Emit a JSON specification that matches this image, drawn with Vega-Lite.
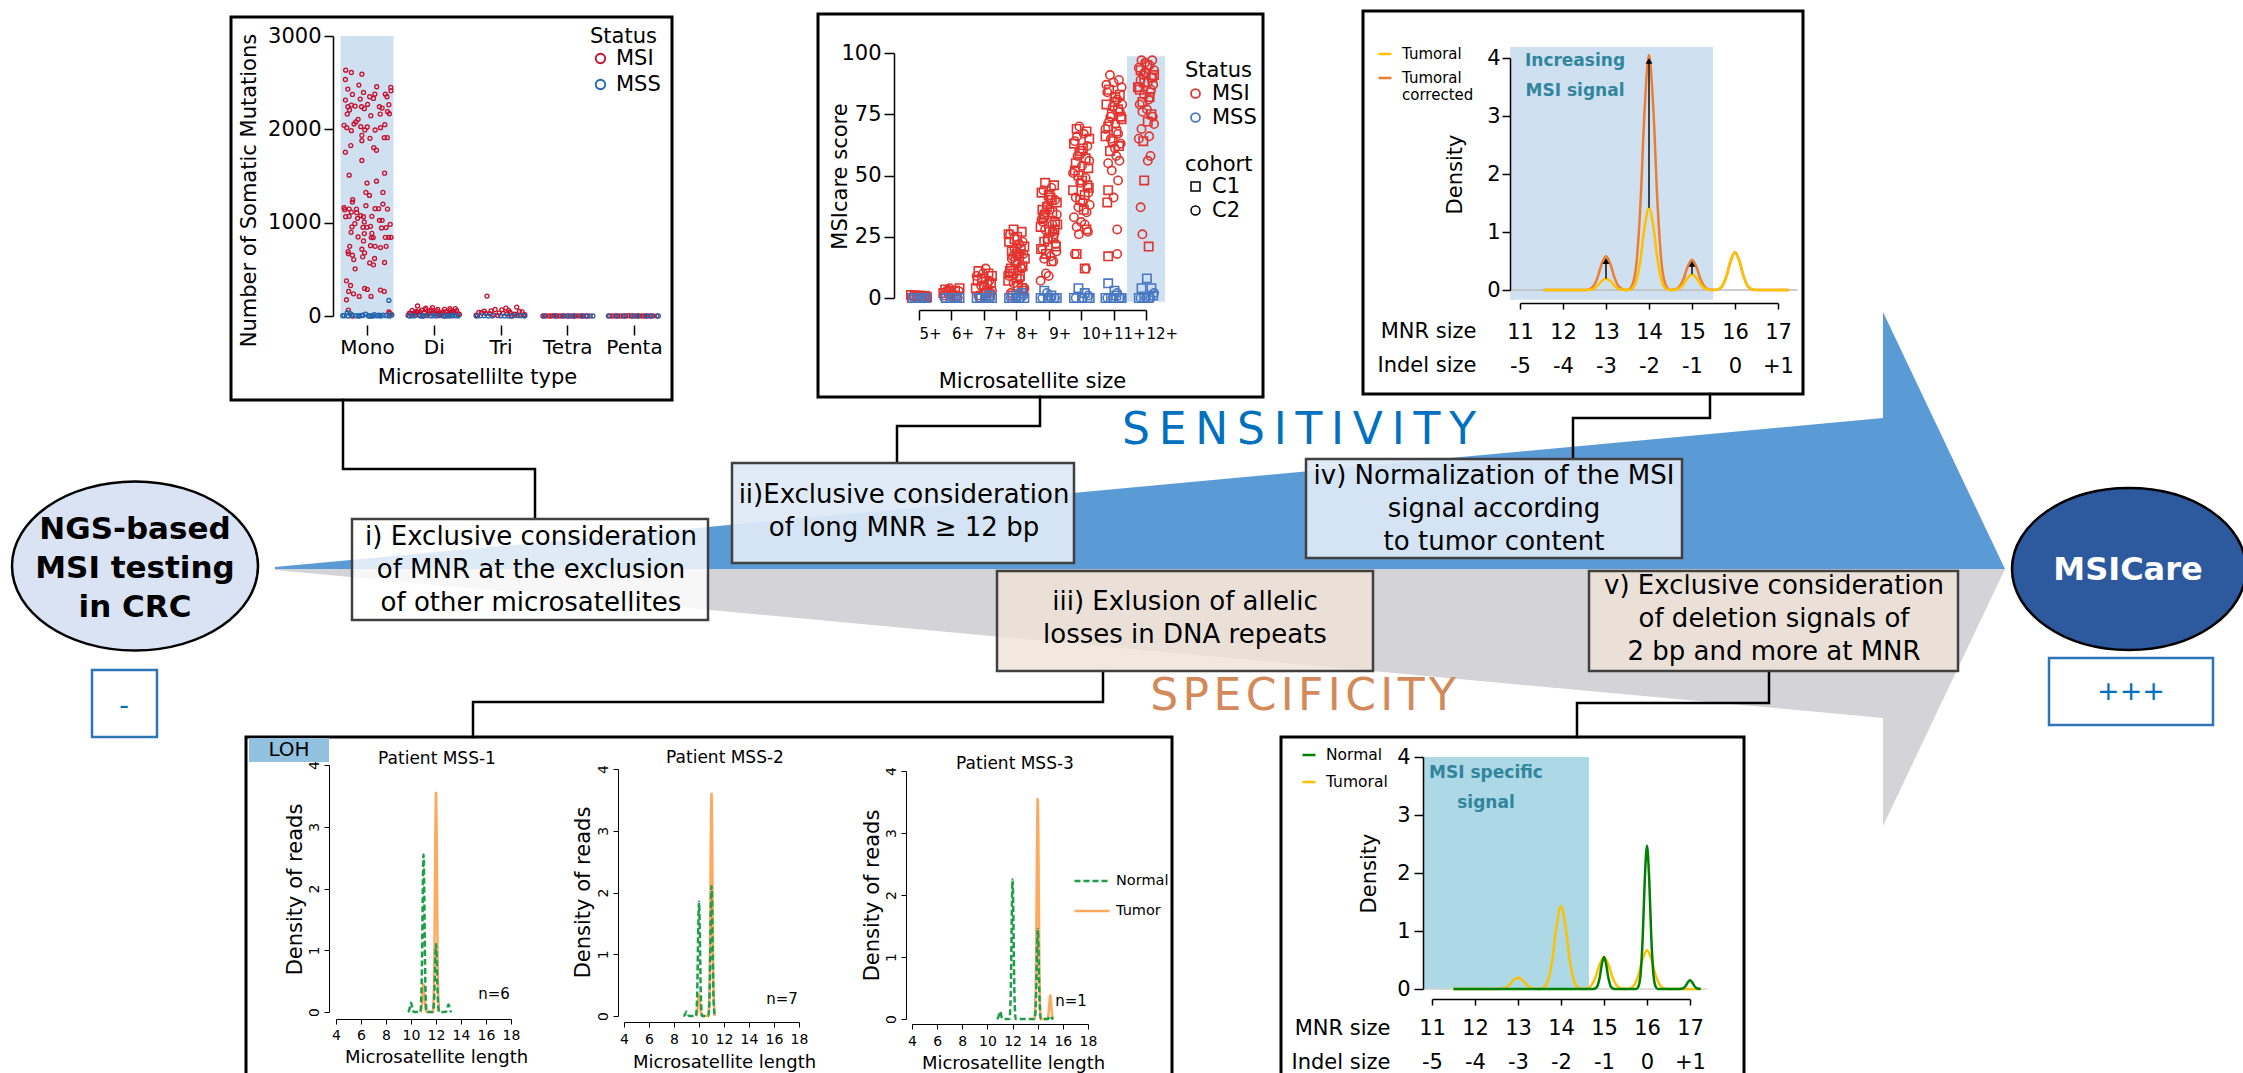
{
"$schema":"https://vega.github.io/schema/vega-lite/v6.json",
"width":2243,"height":1073,"autosize":"none","padding":0,"background":"white",
"config":{"view":{"stroke":null},"font":"DejaVu Sans",
"axis":{"grid":false,"labelFont":"DejaVu Sans","titleFont":"DejaVu Sans","labelColor":"black","titleColor":"black","domainColor":"black","tickColor":"black","titleFontWeight":"normal","labelFlush":false,"labelOverlap":false,"domainWidth":1.5,"tickWidth":1.5},
"legend":{"labelFont":"DejaVu Sans","titleFont":"DejaVu Sans","labelColor":"black","titleColor":"black","titleFontWeight":"normal","padding":0},
"text":{"font":"DejaVu Sans"}},
"datasets":{
"arrows":[{"a":"grey","x":275,"y":569,"y2":570},{"a":"grey","x":1883,"y":569,"y2":718},{"a":"grey","x":1883,"y":569,"y2":826},{"a":"grey","x":2005,"y":569,"y2":569},{"a":"blue","x":275,"y":567,"y2":569},{"a":"blue","x":1883,"y":418,"y2":569},{"a":"blue","x":1883,"y":312,"y2":569},{"a":"blue","x":2005,"y":569,"y2":569}],
"links":[{"id":"a","o":1,"x":343,"y":400},{"id":"a","o":2,"x":343,"y":469},{"id":"a","o":3,"x":535,"y":469},{"id":"a","o":4,"x":535,"y":519},
{"id":"b","o":1,"x":1040,"y":397},{"id":"b","o":2,"x":1040,"y":426},{"id":"b","o":3,"x":897,"y":426},{"id":"b","o":4,"x":897,"y":463},
{"id":"c","o":1,"x":1710,"y":394},{"id":"c","o":2,"x":1710,"y":418},{"id":"c","o":3,"x":1573,"y":418},{"id":"c","o":4,"x":1573,"y":459},
{"id":"d","o":1,"x":1103,"y":671},{"id":"d","o":2,"x":1103,"y":702},{"id":"d","o":3,"x":473,"y":702},{"id":"d","o":4,"x":473,"y":737},
{"id":"e","o":1,"x":1769,"y":671},{"id":"e","o":2,"x":1769,"y":703},{"id":"e","o":3,"x":1577,"y":703},{"id":"e","o":4,"x":1577,"y":737}],
"rects":[{"k":"panel","x":231,"x2":672,"y":17,"y2":400},{"k":"panel","x":818,"x2":1263,"y":14,"y2":397},{"k":"panel","x":1363,"x2":1803,"y":11,"y2":394},{"k":"panel","x":246,"x2":1172,"y":737,"y2":1085},{"k":"panel","x":1281,"x2":1744,"y":737,"y2":1085},
{"k":"boxW","x":352,"x2":708,"y":519,"y2":620},
{"k":"boxB","x":732,"x2":1074,"y":463,"y2":563},{"k":"boxB","x":1306,"x2":1682,"y":459,"y2":558},
{"k":"boxT","x":997,"x2":1373,"y":571,"y2":671},{"k":"boxT","x":1589,"x2":1958,"y":571,"y2":671},
{"k":"loh","x":249,"x2":329,"y":738,"y2":762},
{"k":"sign","x":92,"x2":157,"y":670,"y2":737},{"k":"sign","x":2049,"x2":2213,"y":658,"y2":725}],
"ells":[{"k":"L","x":135,"y":566},{"k":"R","x":2129,"y":569}],
"texts":[
{"k":"box","x":531,"y":537,"t":"i) Exclusive consideration\nof MNR at the exclusion\nof other microsatellites"},
{"k":"box","x":904,"y":495,"t":"ii)Exclusive consideration\nof long MNR ≥ 12 bp"},
{"k":"box","x":1185,"y":602,"t":"iii) Exlusion of allelic\nlosses in DNA repeats"},
{"k":"box","x":1494,"y":476,"t":"iv) Normalization of the MSI\nsignal according\nto tumor content"},
{"k":"box","x":1774,"y":586,"t":"v) Exclusive consideration\nof deletion signals of\n2 bp and more at MNR"},
{"k":"ngs","x":135,"y":530,"t":"NGS-based\nMSI testing\nin CRC"},
{"k":"msicare","x":2128,"y":570,"t":"MSICare"},
{"k":"sens","x":1299,"y":431,"t":"S\u2009E\u2009N\u2009S\u2009I\u2009T\u2009I\u2009V\u2009I\u2009T\u2009Y"},
{"k":"spec","x":1303,"y":697,"t":"S\u200aP\u200aE\u200aC\u200aI\u200aF\u200aI\u200aC\u200aI\u200aT\u200aY"},
{"k":"sign","x":2131,"y":692,"t":"+++"},
{"k":"sign","x":124,"y":706,"t":"-"},
{"k":"pt","x":437,"y":759,"t":"Patient MSS-1"},
{"k":"pt","x":725,"y":758,"t":"Patient MSS-2"},
{"k":"pt","x":1015,"y":764,"t":"Patient MSS-3"},
{"k":"n","x":494,"y":994,"t":"n=6"},
{"k":"n","x":782,"y":999,"t":"n=7"},
{"k":"n","x":1071,"y":1001,"t":"n=1"},
{"k":"loh","x":289,"y":750,"t":"LOH"},
{"k":"sig","x":1575,"y":61,"t":"Increasing\nMSI signal"},
{"k":"sig","x":1486,"y":773,"t":"MSI specific\nsignal"}],
"p1":[
{"t":"Mono","s":"MSI","v":[2634,2609,2591,2534,2431,2474,2456,2449,2374,2395,2413,2377,2377,2313,2349,2324,2331,2349,2242,2260,2249,2242,2267,2221,2228,2264,2207,2242,2189,2164,2146,2164,2167,2107,2057,2079,2043,2018,1986,2029,2025,1993,1993,2050,2018,1936,1879,1904,1911,1911,1826,1804,1776,1755,1666,1509,1530,1424,1445,1324,1324,1292,1246,1221,1199,1160,1146,1146,1182,1150,1150,1146,1139,1114,1107,1068,1064,1075,1064,1046,1068,1025,1025,1007,982,954,989,950,950,961,943,947,897,883,886,847,840,840,843,843,843,804,747,754,747,733,747,715,690,676,666,651,634,616,605,569,548,573,505,377,327,263,238,210,295,285,210,278,263,174,64,0,43,11,28],
"j":[-0.79,-0.58,-0.19,-0.8,-0.71,-0.3,0.36,0.88,-0.54,-0.13,0.89,0.29,0.68,-0.8,0.1,-0.25,0.24,0.74,-0.71,-0.58,-0.44,-0.2,0.02,-0.1,0.56,0.81,-0.65,0.46,0.76,-0.73,0.14,0.49,0.83,-0.33,-0.48,-0.41,-0.85,-0.75,-0.58,-0.23,0.01,-0.08,0.3,0.66,0.5,-0.19,-0.19,0.11,0.64,0.75,-0.6,0.25,0.35,-0.8,-0.19,-0.66,0.65,0,0.35,-0.04,0.59,0.09,-0.53,-0.54,0.59,-0.85,-0.66,-0.39,-0.04,0.3,0.43,0.76,-0.83,-0.58,-0.38,-0.66,-0.79,-0.23,-0.13,-0.35,0.18,0.46,0.56,-0.1,0.86,-0.56,-0.45,0,-0.15,0.13,0.54,0.71,-0.59,-0.1,0.18,-0.33,0.16,0.23,0.68,0.8,0.89,-0.13,-0.64,0.13,0.3,0.5,0.71,-0.19,-0.7,-0.09,-0.69,-0.54,-0.16,0.28,-0.49,0.1,0.24,0.65,-0.44,-0.76,-0.61,-0.68,-0.5,-0.29,-0.09,0.01,0.15,0.5,0.64,-0.76,-0.69,-0.54,0.81,0.89,0.84]},
{"t":"Di","s":"MSI","v":[107,85,72,60,55,48,40,35,30,25,20,15,10,5,0,78,66,58,50,44,38,32,28,22,18,12,8,3,62,70,45,52,36,24,16,6,90,80,42,28,14,2,68,57,33,20,9,1],
"j":[-0.6,-0.3,0.4,-0.8,0.1,0.7,-0.5,0.3,-0.9,0.9,-0.2,0.5,-0.7,0.2,-0.4,0.6,-0.1,0.85,-0.65,0.35,-0.35,0.75,-0.85,0.05,0.55,-0.55,0.25,-0.25,-0.45,0.15,0.45,-0.15,0.65,-0.75,0.95,-0.95,-0.05,0.8,-0.6,0,0.3,0.7,-0.3,0.6,-0.7,0.2,-0.5,0.4]},
{"t":"Tri","s":"MSI","v":[213,96,85,70,60,52,45,38,30,25,20,15,10,5,0,48,35,22,12,3,55,40,28,18,8,2,65,33],
"j":[-0.5,0.6,0.2,-0.2,0.3,-0.6,0.8,-0.8,0.1,-0.4,0.5,0.9,-0.9,-0.1,0.4,0.7,-0.7,0.25,-0.25,0.65,-0.35,0.35,-0.55,0.55,0.85,-0.85,0.05,-0.05]},
{"t":"Tetra","s":"MSI","v":[0,2,1,0,3,0,1,0,2,0,1,0,0,2,1,0,0,1],"j":[-0.9,-0.8,-0.7,-0.6,-0.5,-0.4,-0.3,-0.2,-0.1,0,0.1,0.2,0.3,0.4,0.5,0.6,0.7,0.85]},
{"t":"Penta","s":"MSI","v":[1,0,2,0,0,1,0,3,0,1,0,2,0,0,1,0,2,0],"j":[-0.9,-0.8,-0.7,-0.6,-0.5,-0.4,-0.3,-0.2,-0.1,0,0.1,0.2,0.3,0.4,0.5,0.6,0.7,0.85]},
{"t":"Mono","s":"MSS","v":[167,36,5,0,12,3,0,8,20,2,0,15,4,0,10,6,0,25,1,0,9,3,14,0,7],"j":[0.81,-0.73,-0.9,-0.7,-0.55,-0.4,-0.28,-0.15,-0.05,0.05,0.15,0.27,0.38,0.5,0.6,0.7,0.82,-0.62,-0.33,0.22,0.44,-0.85,0.92,0.1,-0.2]},
{"t":"Di","s":"MSS","v":[0,2,0,5,1,0,3,0,8,0,1,0,4,0,2,0],"j":[-0.9,-0.7,-0.5,-0.3,-0.1,0.1,0.3,0.5,0.7,0.9,-0.8,-0.4,0,0.4,0.8,0.6]},
{"t":"Tri","s":"MSS","v":[0,3,0,1,0,6,0,2,0,1,0,4],"j":[-0.9,-0.6,-0.3,0,0.3,0.6,0.9,-0.75,-0.45,0.15,0.45,0.75]},
{"t":"Tetra","s":"MSS","v":[0,0,1,0,0,0,0,0],"j":[-0.85,-0.45,-0.15,0.05,0.25,0.55,0.75,0.95]},
{"t":"Penta","s":"MSS","v":[0,0,0,1,0,0,0,0],"j":[-0.95,-0.65,-0.35,-0.05,0.15,0.45,0.65,0.9]}],
"p2":[
{"c":"5+","s":"MSI","k":"C1","v":[0,1,0.5,1,0,0.8,0.3,1.2],"j":[-0.8,-0.5,-0.2,0.1,0.4,0.7,0.9,-0.9]},
{"c":"5+","s":"MSI","k":"C2","v":[0.5,0,1,0.3,0.8,0.2],"j":[-0.6,-0.3,0,0.3,0.6,0.85]},
{"c":"6+","s":"MSI","k":"C1","v":[3.5,2.5,1,0,4,2,3],"j":[-0.7,-0.3,0.2,0.6,0.9,-0.9,0.4]},
{"c":"6+","s":"MSI","k":"C2","v":[3,1.5,0.5,2.8,4,1],"j":[-0.5,0,0.5,0.8,-0.2,-0.8]},
{"c":"7+","s":"MSI","k":"C1","v":[11,10,8,6,4,2,0,9,5,1,7,3],"j":[-0.6,0.5,-0.2,0.8,-0.9,0.2,-0.4,0.9,0,0.6,-0.7,0.35]},
{"c":"7+","s":"MSI","k":"C2","v":[12,9,7,5,3,1,10,6,2],"j":[0.2,-0.8,0.6,-0.3,0.9,-0.6,-0.1,0.4,0.75]},
{"c":"8+","s":"MSI","k":"C1","v":[28,27,25,23,21,19,17,15,13,11,9,7,5,3,1,24,20,16,12,8,4,26,18,10],"j":[-0.3,0.6,0.1,-0.8,0.9,-0.5,0.3,-0.1,0.7,-0.7,0.4,-0.9,0.2,0.8,-0.4,-0.2,0.5,0.95,-0.6,0.05,0.65,-0.85,0.15,-0.35]},
{"c":"8+","s":"MSI","k":"C2","v":[26,22,20,18,16,14,12,10,8,6,4,2,19,13,9,23,17,11],"j":[-0.7,0.3,-0.2,0.8,-0.5,0.1,0.6,-0.9,0.4,-0.3,0.9,-0.6,0,0.5,-0.8,0.7,-0.4,0.2]},
{"c":"9+","s":"MSI","k":"C1","v":[47,46,43,41,39,37,35,33,31,29,27,25,23,21,18,15,42,36,30,24,28,34,40,20],"j":[-0.4,0.6,-0.8,0.2,0.9,-0.2,0.4,-0.6,0.7,-0.9,0.1,0.5,-0.5,0.8,-0.3,0.3,0,-0.7,0.95,-0.1,0.65,-0.45,0.35,-0.85]},
{"c":"9+","s":"MSI","k":"C2","v":[45,44,40,38,36,34,32,30,28,26,24,22,20,17,16,15,10,9,7,35,27,31,19],"j":[0.3,-0.6,0.7,-0.2,0.1,0.9,-0.8,0.4,-0.4,0.6,-0.1,0.8,-0.7,0.2,-0.5,0.5,-0.3,0,-0.9,-0.35,0.45,-0.65,0.85]},
{"c":"10+","s":"MSI","k":"C1","v":[69,68,65,63,61,59,57,55,53,50,48,46,44,42,40,36,28,18,12,60,52,45],"j":[-0.5,0.6,0.9,-0.8,0.2,-0.2,0.5,-0.6,0.8,-0.3,0.1,0.7,-0.9,0.4,-0.1,0.3,0.6,-0.5,0.4,0,-0.7,0.85]},
{"c":"10+","s":"MSI","k":"C2","v":[70,67,64,62,58,56,54,51,49,47,43,41,39,37,35,33,31,30,29,27,26,18,12,66,38],"j":[-0.2,0.3,-0.7,0.7,-0.4,0.9,0.1,-0.9,0.5,-0.1,0.8,-0.6,0.2,-0.3,0.6,-0.8,0,0.4,-0.5,0.75,-0.25,-0.7,0.55,-0.45,0.95]},
{"c":"11+","s":"MSI","k":"C1","v":[85,83,80,79,77,75,73,70,68,66,62,60,44,39,17,82,74,64],"j":[-0.5,0.7,0.1,-0.8,0.5,-0.2,0.9,-0.6,0.3,-0.9,0.6,-0.4,-0.6,-0.7,-0.6,0.2,0.8,-0.1]},
{"c":"11+","s":"MSI","k":"C2","v":[91,89,88,86,84,81,78,76,72,71,69,67,65,63,58,55,52,48,41,28,18,87,79,74,61,56],"j":[-0.4,0.6,0,0.9,-0.7,0.4,-0.1,0.7,-0.5,0.2,-0.9,0.5,-0.3,0.8,0.3,-0.6,-0.2,0.5,0,0.4,0.4,-0.8,0.95,-0.35,0.15,0.65]},
{"c":"12+","s":"MSI","k":"C1","v":[95,93,90,88,85,82,80,75,72,64,48,21,91,86],"j":[0.1,-0.6,0.7,-0.2,-0.7,0.4,-0.4,0.6,0.2,-0.3,-0.2,0.3,0.9,-0.9]},
{"c":"12+","s":"MSI","k":"C2","v":[97,97,96,95,94,93,92,91,90,89,88,87,86,84,83,81,79,77,76,74,71,69,66,65,58,56,37,26,92,85],"j":[-0.5,0.7,-0.1,0.4,-0.8,0.9,0,-0.3,0.6,-0.6,0.2,0.8,-0.9,0.5,-0.2,0.3,-0.7,0.1,-0.4,0.75,0.9,-0.5,0.35,-0.8,0.5,0.2,-0.6,-0.4,-0.15,0.55]},
{"c":"5+","s":"MSS","k":"C1","v":[0,0,0,0],"j":[-0.7,-0.2,0.3,0.8]},
{"c":"5+","s":"MSS","k":"C2","v":[0,0,0],"j":[-0.5,0.1,0.6]},
{"c":"6+","s":"MSS","k":"C1","v":[0,0,0,0],"j":[-0.6,-0.1,0.4,0.9]},
{"c":"6+","s":"MSS","k":"C2","v":[0,0,0],"j":[-0.8,0.2,0.7]},
{"c":"7+","s":"MSS","k":"C1","v":[0,0,0,1,0],"j":[-0.8,-0.3,0.2,0.6,0.9]},
{"c":"7+","s":"MSS","k":"C2","v":[0,0,0],"j":[-0.5,0.3,0.7]},
{"c":"8+","s":"MSS","k":"C1","v":[0,0,1,0,2,0],"j":[-0.8,-0.4,0,0.3,0.6,0.9]},
{"c":"8+","s":"MSS","k":"C2","v":[0,0,0,1],"j":[-0.6,-0.1,0.5,0.8]},
{"c":"9+","s":"MSS","k":"C1","v":[0,3,0,1,0,0],"j":[-0.9,-0.5,-0.1,0.3,0.6,0.9]},
{"c":"9+","s":"MSS","k":"C2","v":[0,2,0,0],"j":[-0.7,-0.2,0.2,0.7]},
{"c":"10+","s":"MSS","k":"C1","v":[0,4,0,2,0,0],"j":[-0.8,-0.3,0.1,0.4,0.7,0.95]},
{"c":"10+","s":"MSS","k":"C2","v":[0,0,1],"j":[-0.6,0.2,0.8]},
{"c":"11+","s":"MSS","k":"C1","v":[6,3,0,0,1,0,0],"j":[-0.6,0.1,-0.9,-0.3,0.3,0.6,0.9]},
{"c":"11+","s":"MSS","k":"C2","v":[0,0,2,0],"j":[-0.7,-0.1,0.4,0.8]},
{"c":"12+","s":"MSS","k":"C1","v":[8,4,4,0,0,0,1],"j":[0.1,-0.5,0.6,-0.8,-0.2,0.3,0.8]},
{"c":"12+","s":"MSS","k":"C2","v":[0,0,0,2],"j":[-0.6,0,0.5,0.9]}],
"p3":[
{"s":"Tumoral corrected","x":[11.55,12.5,12.6,12.7,12.8,12.9,13,13.1,13.2,13.3,13.4,13.5,13.6,13.7,13.8,13.9,14,14.1,14.2,14.3,14.4,14.5,14.6,14.7,14.8,14.9,15,15.1,15.2,15.3,15.4,15.5,15.6,15.7,15.8,15.9,16,16.1,16.2,16.3,16.4,16.5,17.25],
"y":[0,0,0.01,0.058,0.209,0.45,0.58,0.45,0.209,0.058,0.01,0,0.069,0.405,1.458,3.139,4.05,3.139,1.458,0.405,0.069,0,0.009,0.052,0.187,0.403,0.52,0.403,0.187,0.052,0.009,0,0.011,0.065,0.234,0.504,0.65,0.504,0.234,0.065,0.011,0,0]},
{"s":"Tumoral","x":[11.55,12.5,12.6,12.7,12.8,12.9,13,13.1,13.2,13.3,13.4,13.5,13.6,13.7,13.8,13.9,14,14.1,14.2,14.3,14.4,14.5,14.6,14.7,14.8,14.9,15,15.1,15.2,15.3,15.4,15.5,15.6,15.7,15.8,15.9,16,16.1,16.2,16.3,16.4,16.5,17.25],
"y":[0,0,0.003,0.02,0.072,0.155,0.2,0.155,0.072,0.02,0.003,0,0.024,0.142,0.511,1.1,1.42,1.1,0.511,0.142,0.024,0,0.005,0.027,0.097,0.209,0.27,0.209,0.097,0.027,0.005,0,0.011,0.065,0.234,0.504,0.65,0.504,0.234,0.065,0.011,0,0]}],
"p3arr":[{"x":13,"a":0.2,"b":0.5},{"x":14,"a":1.42,"b":3.95},{"x":15,"a":0.27,"b":0.45}],
"p4":[
{"p":"1","s":"Tumor","x":[10.75,10.85,10.9,10.95,11,11.05,11.1,11.15,11.25,11.75,11.85,11.9,11.95,12,12.05,12.1,12.15,12.25],"y":[0,0.077,0.207,0.369,0.45,0.369,0.207,0.077,0,0,0.604,1.633,2.911,3.55,2.911,1.633,0.604,0]},
{"p":"1","s":"Normal","x":[9.75,9.85,9.9,9.95,10,10.05,10.1,10.15,10.25,10.75,10.85,10.9,10.95,11,11.05,11.1,11.15,11.25,11.75,11.85,11.9,11.95,12,12.05,12.1,12.15,12.25,12.75,12.85,12.9,12.95,13,13.05,13.1,13.15,13.25],"y":[0,0.026,0.069,0.123,0.15,0.123,0.069,0.026,0,0,0.434,1.173,2.091,2.55,2.091,1.173,0.434,0,0,0.187,0.506,0.902,1.1,0.902,0.506,0.187,0,0,0.02,0.055,0.098,0.12,0.098,0.055,0.02,0]},
{"p":"2","s":"Tumor","x":[9.75,9.85,9.9,9.95,10,10.05,10.1,10.15,10.25,10.75,10.85,10.9,10.95,11,11.05,11.1,11.15,11.25],"y":[0,0.06,0.161,0.287,0.35,0.287,0.161,0.06,0,0,0.612,1.656,2.952,3.6,2.952,1.656,0.612,0]},
{"p":"2","s":"Normal","x":[8.75,8.85,8.9,8.95,9,9.05,9.1,9.15,9.25,9.75,9.85,9.9,9.95,10,10.05,10.1,10.15,10.25,10.75,10.85,10.9,10.95,11,11.05,11.1,11.15,11.25],"y":[0,0.012,0.032,0.057,0.07,0.057,0.032,0.012,0,0,0.315,0.851,1.517,1.85,1.517,0.851,0.315,0,0,0.357,0.966,1.722,2.1,1.722,0.966,0.357,0]},
{"p":"3","s":"Tumor","x":[13.75,13.85,13.9,13.95,14,14.05,14.1,14.15,14.25,14.75,14.85,14.9,14.95,15,15.05,15.1,15.15,15.25],"y":[0,0.604,1.633,2.911,3.55,2.911,1.633,0.604,0,0,0.065,0.175,0.312,0.38,0.312,0.175,0.065,0]},
{"p":"3","s":"Normal","x":[10.75,10.85,10.9,10.95,11,11.05,11.1,11.15,11.25,11.75,11.85,11.9,11.95,12,12.05,12.1,12.15,12.25,13.75,13.85,13.9,13.95,14,14.05,14.1,14.15,14.25,14.75,14.85,14.9,14.95,15,15.05,15.1,15.15,15.25],"y":[0,0.02,0.055,0.098,0.12,0.098,0.055,0.02,0,0,0.383,1.035,1.845,2.25,1.845,1.035,0.383,0,0,0.247,0.667,1.189,1.45,1.189,0.667,0.247,0,0,0.009,0.023,0.041,0.05,0.041,0.023,0.009,0]}],
"p5":[
{"s":"Tumoral","x":[11.5,12.5,12.6,12.7,12.8,12.9,13,13.1,13.2,13.3,13.4,13.5,13.6,13.7,13.8,13.9,14,14.1,14.2,14.3,14.4,14.5,14.6,14.7,14.8,14.9,15,15.1,15.2,15.3,15.4,15.5,15.6,15.7,15.8,15.9,16,16.1,16.2,16.3,16.4,16.5,17.25],
"y":[0,0,0.003,0.02,0.072,0.155,0.2,0.155,0.072,0.02,0.003,0,0.024,0.143,0.515,1.108,1.43,1.108,0.515,0.143,0.024,0,0.009,0.055,0.198,0.426,0.55,0.426,0.198,0.055,0.009,0,0.011,0.067,0.241,0.519,0.67,0.519,0.241,0.067,0.011,0,0]},
{"s":"Normal","x":[11.5,14.75,14.8,14.85,14.9,14.95,15,15.05,15.1,15.15,15.2,15.25,15.75,15.8,15.85,15.9,15.95,16,16.05,16.1,16.15,16.2,16.25,16.75,16.8,16.85,16.9,16.95,17,17.05,17.1,17.15,17.2,17.25],
"y":[0,0,0.009,0.055,0.198,0.426,0.55,0.426,0.198,0.055,0.009,0,0,0.042,0.247,0.889,1.914,2.47,1.914,0.889,0.247,0.042,0,0,0.003,0.015,0.054,0.116,0.15,0.116,0.054,0.015,0.003,0]}]
},
"layer":[
{"layer":[
 {"data":{"name":"arrows"},"mark":{"type":"area","interpolate":"linear"},
  "encoding":{"x":{"field":"x","type":"quantitative","scale":{"domain":[0,2243],"range":[0,2243],"nice":false,"zero":false},"axis":null},
   "y":{"field":"y","type":"quantitative","stack":null,"scale":{"domain":[0,1073],"range":[0,1073],"nice":false,"zero":false},"axis":null},
   "y2":{"field":"y2"},
   "color":{"field":"a","type":"nominal","scale":{"domain":["grey","blue"],"range":["#d4d4d8","#5b9bd5"]},"legend":null}}},
 {"data":{"name":"links"},"mark":{"type":"line","color":"black","strokeWidth":2.5,"strokeCap":"square"},
  "encoding":{"x":{"field":"x","type":"quantitative"},"y":{"field":"y","type":"quantitative"},"detail":{"field":"id"},"order":{"field":"o"}}},
 {"data":{"name":"rects"},"transform":[{"filter":"datum.k=='panel'"}],"mark":{"type":"rect","fill":null,"fillOpacity":0,"stroke":"black","strokeWidth":3},
  "encoding":{"x":{"field":"x","type":"quantitative"},"x2":{"field":"x2"},"y":{"field":"y","type":"quantitative"},"y2":{"field":"y2"}}},
 {"data":{"name":"rects"},"transform":[{"filter":"datum.k=='boxW'"}],"mark":{"type":"rect","fill":"white","fillOpacity":0.8,"stroke":"#404040","strokeWidth":2.5},
  "encoding":{"x":{"field":"x","type":"quantitative"},"x2":{"field":"x2"},"y":{"field":"y","type":"quantitative"},"y2":{"field":"y2"}}},
 {"data":{"name":"rects"},"transform":[{"filter":"datum.k=='boxB'"}],"mark":{"type":"rect","fill":"#deeaf6","fillOpacity":0.93,"stroke":"#404040","strokeWidth":2.5},
  "encoding":{"x":{"field":"x","type":"quantitative"},"x2":{"field":"x2"},"y":{"field":"y","type":"quantitative"},"y2":{"field":"y2"}}},
 {"data":{"name":"rects"},"transform":[{"filter":"datum.k=='boxT'"}],"mark":{"type":"rect","fill":"#efe2d8","fillOpacity":0.8,"stroke":"#404040","strokeWidth":2.5},
  "encoding":{"x":{"field":"x","type":"quantitative"},"x2":{"field":"x2"},"y":{"field":"y","type":"quantitative"},"y2":{"field":"y2"}}},
 {"data":{"name":"rects"},"transform":[{"filter":"datum.k=='loh'"}],"mark":{"type":"rect","fill":"#92c0df"},
  "encoding":{"x":{"field":"x","type":"quantitative"},"x2":{"field":"x2"},"y":{"field":"y","type":"quantitative"},"y2":{"field":"y2"}}},
 {"data":{"name":"rects"},"transform":[{"filter":"datum.k=='sign'"}],"mark":{"type":"rect","fill":"white","stroke":"#2e75b6","strokeWidth":2.5},
  "encoding":{"x":{"field":"x","type":"quantitative"},"x2":{"field":"x2"},"y":{"field":"y","type":"quantitative"},"y2":{"field":"y2"}}},
 {"data":{"name":"ells"},"transform":[{"filter":"datum.k=='L'"}],"mark":{"type":"point","shape":"M -1 0 A 1 0.687 0 1 1 1 0 A 1 0.687 0 1 1 -1 0 Z","size":60516,"filled":true,"fill":"#dae3f3","stroke":"black","strokeWidth":2.5,"opacity":1},
  "encoding":{"x":{"field":"x","type":"quantitative"},"y":{"field":"y","type":"quantitative"}}},
 {"data":{"name":"ells"},"transform":[{"filter":"datum.k=='R'"}],"mark":{"type":"point","shape":"M -1 0 A 1 0.692 0 1 1 1 0 A 1 0.692 0 1 1 -1 0 Z","size":54756,"filled":true,"fill":"#2d5a9f","stroke":"black","strokeWidth":2.5,"opacity":1},
  "encoding":{"x":{"field":"x","type":"quantitative"},"y":{"field":"y","type":"quantitative"}}}
]},
{"layer":[
 {"data":{"values":[{}]},"mark":{"type":"bar","width":53,"color":"#cfe0f1"},
  "encoding":{"x":{"datum":"Mono","type":"nominal"},"y":{"datum":3000,"type":"quantitative"},"y2":{"datum":-32}}},
 {"data":{"name":"p1"},"transform":[{"flatten":["v","j"]}],"mark":{"type":"point","filled":false,"size":16,"strokeWidth":1.3,"opacity":1},
  "encoding":{
   "x":{"field":"t","type":"nominal","scale":{"type":"point","domain":["Mono","Di","Tri","Tetra","Penta"],"range":[367,634],"padding":0},
    "axis":{"zindex":1,"orient":"bottom","offset":-748,"domain":false,"ticks":true,"tickSize":10,"labelPadding":2,"labelFontSize":20,"labelAngle":0,"labelAlign":"center","labelBaseline":"top","title":"Microsatellilte type","titleFontSize":21,"titleX":477,"titleY":41,"titleAlign":"center","titleBaseline":"top","titleAngle":0}},
   "xOffset":{"field":"j","type":"quantitative","scale":{"domain":[-1,1],"range":[-27,27]}},
   "y":{"field":"v","type":"quantitative","scale":{"domain":[0,3000],"range":[316,36],"nice":false,"zero":false},
    "axis":{"zindex":1,"orient":"left","offset":-333,"values":[0,1000,2000,3000],"format":"d","tickSize":9,"labelPadding":3,"labelFontSize":21,"title":"Number of Somatic Mutations","titleFontSize":21,"titleX":-84,"titleY":190,"titleAngle":-90,"titleAlign":"center","titleBaseline":"middle"}},
   "color":{"field":"s","type":"nominal","scale":{"domain":["MSI","MSS"],"range":["#c8102e","#2166ac"]},
    "legend":{"zindex":1,"orient":"none","legendX":590,"legendY":26,"title":"Status","titleFontSize":21,"labelFontSize":21,"symbolSize":90,"symbolStrokeWidth":1.8,"rowPadding":4,"titlePadding":1,"labelOffset":5}}}}
]},
{"layer":[
 {"data":{"values":[{}]},"mark":{"type":"bar","width":38,"color":"#cfe0f1"},
  "encoding":{"x":{"datum":"12+","type":"nominal"},"y":{"datum":98.7,"type":"quantitative"},"y2":{"datum":-1.5}}},
 {"data":{"name":"p2"},"transform":[{"flatten":["v","j"]}],"mark":{"type":"point","filled":false,"size":70,"strokeWidth":1.6,"opacity":1},
  "encoding":{
   "x":{"field":"c","type":"nominal","scale":{"type":"point","domain":["5+","6+","7+","8+","9+","10+","11+","12+"],"range":[919,1146],"padding":0},
    "axis":{"zindex":1,"orient":"bottom","offset":-763,"domain":true,"ticks":true,"tickSize":10,"labelPadding":6,"labelFontSize":15,"labelAngle":0,"labelAlign":"left","labelBaseline":"top","labelDx":-3,"title":"Microsatellite size","titleFontSize":21,"titleX":1032,"titleY":60,"titleAlign":"center","titleBaseline":"top","titleAngle":0}},
   "xOffset":{"field":"j","type":"quantitative","scale":{"domain":[-1,1],"range":[-9,9]}},
   "y":{"field":"v","type":"quantitative","scale":{"domain":[0,100],"range":[298,53],"nice":false,"zero":false},
    "axis":{"zindex":1,"orient":"left","offset":-894,"values":[0,25,50,75,100],"format":"d","tickSize":10,"labelPadding":3,"labelFontSize":21,"title":"MSIcare score","titleFontSize":21,"titleX":-54,"titleY":176,"titleAngle":-90,"titleAlign":"center","titleBaseline":"middle"}},
   "color":{"field":"s","type":"nominal","scale":{"domain":["MSI","MSS"],"range":["#e2342f","#4a78c2"]},
    "legend":{"zindex":1,"orient":"none","legendX":1185,"legendY":60,"title":"Status","titleFontSize":21,"labelFontSize":21,"symbolType":"circle","symbolSize":80,"symbolStrokeWidth":1.8,"rowPadding":2,"titlePadding":2,"labelOffset":6}},
   "shape":{"field":"k","type":"nominal","scale":{"domain":["C1","C2"],"range":["square","circle"]},
    "legend":{"zindex":1,"orient":"none","legendX":1185,"legendY":154,"title":"cohort","titleFontSize":21,"labelFontSize":21,"symbolSize":80,"symbolStrokeColor":"black","symbolFillColor":"transparent","symbolStrokeWidth":1.5,"rowPadding":2,"titlePadding":1,"labelOffset":6}}}}
]},
{"layer":[
 {"data":{"values":[{}]},"mark":{"type":"rect","color":"#cfe0f1"},
  "encoding":{"x":{"datum":10.77},"x2":{"datum":15.49},"y":{"datum":-0.17},"y2":{"datum":4.19}}},
 {"data":{"values":[{}]},"mark":{"type":"rule","color":"#bdbdbd","strokeWidth":1.5},
  "encoding":{"x":{"datum":10.77},"x2":{"datum":17.45},"y":{"datum":0}}},
 {"data":{"name":"p3"},"transform":[{"flatten":["x","y"]}],"mark":{"type":"line","interpolate":"monotone","strokeWidth":2.5},
  "encoding":{
   "x":{"field":"x","type":"quantitative","scale":{"domain":[11,17],"range":[1520,1778],"nice":false,"zero":false},
    "axis":{"zindex":1,"orient":"bottom","offset":-770,"values":[11,12,13,14,15,16,17],"format":"d","tickSize":6,"labelPadding":12,"labelFontSize":21,"labelAlign":"center","labelLineHeight":34,"labelExpr":"[datum.label, datum.value == 17 ? '+1' : '' + (datum.value - 16)]","title":["MNR size","Indel size"],"titleFontSize":21,"titleLineHeight":34,"titleX":1476,"titleY":17,"titleAlign":"right","titleBaseline":"top","titleAngle":0}},
   "y":{"field":"y","type":"quantitative","scale":{"domain":[0,4],"range":[290,58],"nice":false,"zero":false},
    "axis":{"zindex":1,"orient":"left","offset":-1510,"values":[0,1,2,3,4],"format":"d","tickSize":8,"labelPadding":2,"labelFontSize":21,"title":"Density","titleFontSize":21,"titleX":-55,"titleY":174,"titleAngle":-90,"titleAlign":"center","titleBaseline":"middle"}},
   "color":{"field":"s","type":"nominal","scale":{"domain":["Tumoral","Tumoral corrected"],"range":["#ffc000","#ed7d31"]},
    "legend":{"zindex":1,"orient":"none","legendX":1377,"legendY":46,"title":null,"symbolType":"stroke","symbolSize":169,"symbolStrokeWidth":2.5,"labelFontSize":15,"labelOffset":9,"rowPadding":8,"labelExpr":"datum.label == 'Tumoral corrected' ? ['Tumoral','corrected'] : datum.label"}}}},
 {"data":{"name":"p3arr"},"mark":{"type":"rule","color":"black","strokeWidth":1.4},
  "encoding":{"x":{"field":"x","type":"quantitative"},"y":{"field":"a","type":"quantitative"},"y2":{"field":"b"}}},
 {"data":{"name":"p3arr"},"mark":{"type":"point","shape":"triangle-up","filled":true,"size":45,"color":"black","opacity":1},
  "encoding":{"x":{"field":"x","type":"quantitative"},"y":{"field":"b","type":"quantitative"}}}
]},
{"data":{"name":"p4"},"transform":[{"filter":"datum.p=='1'"},{"flatten":["x","y"]}],"mark":{"type":"line","interpolate":"monotone","strokeWidth":2.5},
 "encoding":{
  "x":{"field":"x","type":"quantitative","scale":{"domain":[4,18],"range":[336,511],"nice":false,"zero":false},
   "axis":{"zindex":1,"orient":"bottom","offset":-54,"values":[4,6,8,10,12,14,16,18],"format":"d","tickSize":5,"labelPadding":4,"labelFontSize":14,"labelAlign":"center","domainWidth":1,"tickWidth":1,"title":"Microsatellite length","titleFontSize":18,"titleX":436,"titleY":29,"titleAlign":"center","titleBaseline":"top","titleAngle":0}},
  "y":{"field":"y","type":"quantitative","scale":{"domain":[0,4],"range":[1012,765],"nice":false,"zero":false},
   "axis":{"zindex":1,"orient":"left","offset":-329,"values":[0,1,2,3,4],"format":"d","tickSize":5,"labelPadding":3,"labelFontSize":14,"labelAngle":270,"labelAlign":"center","labelBaseline":"bottom","domainWidth":1,"tickWidth":1,"title":"Density of reads","titleFontSize":21,"titleX":-34,"titleY":889,"titleAngle":-90,"titleAlign":"center","titleBaseline":"middle"}},
  "color":{"field":"s","type":"nominal","scale":{"domain":["Normal","Tumor"],"range":["#1f9e4a","#fdaa5e"]},"legend":null},
  "strokeDash":{"field":"s","type":"nominal","scale":{"domain":["Normal","Tumor"],"range":[[6,3],[1,0]]},"legend":null}}},
{"data":{"name":"p4"},"transform":[{"filter":"datum.p=='2'"},{"flatten":["x","y"]}],"mark":{"type":"line","interpolate":"monotone","strokeWidth":2.5},
 "encoding":{
  "x":{"field":"x","type":"quantitative","scale":{"domain":[4,18],"range":[624,799],"nice":false,"zero":false},
   "axis":{"zindex":1,"orient":"bottom","offset":-51,"values":[4,6,8,10,12,14,16,18],"format":"d","tickSize":5,"labelPadding":5,"labelFontSize":14,"labelAlign":"center","domainWidth":1,"tickWidth":1,"title":"Microsatellite length","titleFontSize":18,"titleX":724,"titleY":31,"titleAlign":"center","titleBaseline":"top","titleAngle":0}},
  "y":{"field":"y","type":"quantitative","scale":{"domain":[0,4],"range":[1016,769],"nice":false,"zero":false},
   "axis":{"zindex":1,"orient":"left","offset":-618,"values":[0,1,2,3,4],"format":"d","tickSize":5,"labelPadding":3,"labelFontSize":14,"labelAngle":270,"labelAlign":"center","labelBaseline":"bottom","domainWidth":1,"tickWidth":1,"title":"Density of reads","titleFontSize":21,"titleX":-35,"titleY":892,"titleAngle":-90,"titleAlign":"center","titleBaseline":"middle"}},
  "color":{"field":"s","type":"nominal","scale":{"domain":["Normal","Tumor"],"range":["#1f9e4a","#fdaa5e"]},"legend":null},
  "strokeDash":{"field":"s","type":"nominal","scale":{"domain":["Normal","Tumor"],"range":[[6,3],[1,0]]},"legend":null}}},
{"data":{"name":"p4"},"transform":[{"filter":"datum.p=='3'"},{"flatten":["x","y"]}],"mark":{"type":"line","interpolate":"monotone","strokeWidth":2.5},
 "encoding":{
  "x":{"field":"x","type":"quantitative","scale":{"domain":[4,18],"range":[912,1088],"nice":false,"zero":false},
   "axis":{"zindex":1,"orient":"bottom","offset":-49,"values":[4,6,8,10,12,14,16,18],"format":"d","tickSize":5,"labelPadding":5,"labelFontSize":14,"labelAlign":"center","domainWidth":1,"tickWidth":1,"title":"Microsatellite length","titleFontSize":18,"titleX":1013,"titleY":30,"titleAlign":"center","titleBaseline":"top","titleAngle":0}},
  "y":{"field":"y","type":"quantitative","scale":{"domain":[0,4],"range":[1019,771],"nice":false,"zero":false},
   "axis":{"zindex":1,"orient":"left","offset":-906,"values":[0,1,2,3,4],"format":"d","tickSize":5,"labelPadding":3,"labelFontSize":14,"labelAngle":270,"labelAlign":"center","labelBaseline":"bottom","domainWidth":1,"tickWidth":1,"title":"Density of reads","titleFontSize":21,"titleX":-34,"titleY":895,"titleAngle":-90,"titleAlign":"center","titleBaseline":"middle"}},
  "color":{"field":"s","type":"nominal","scale":{"domain":["Normal","Tumor"],"range":["#1f9e4a","#fdaa5e"]},
   "legend":{"zindex":1,"orient":"none","legendX":1073,"legendY":862,"title":null,"symbolType":"stroke","symbolSize":1225,"symbolStrokeWidth":2.5,"labelFontSize":14.5,"labelOffset":5,"rowPadding":4}},
  "strokeDash":{"field":"s","type":"nominal","scale":{"domain":["Normal","Tumor"],"range":[[6,3],[1,0]]},
   "legend":{"zindex":1,"orient":"none","legendX":1073,"legendY":862,"title":null,"symbolType":"stroke","symbolSize":1225,"symbolStrokeWidth":2.5,"labelFontSize":14.5,"labelOffset":5,"rowPadding":4}}}},
{"layer":[
 {"data":{"values":[{}]},"mark":{"type":"rect","color":"#add8e6"},
  "encoding":{"x":{"datum":10.79},"x2":{"datum":14.65},"y":{"datum":0},"y2":{"datum":4}}},
 {"data":{"values":[{}]},"mark":{"type":"rule","color":"#d0d0d0","strokeWidth":1.5},
  "encoding":{"x":{"datum":10.79},"x2":{"datum":17.4},"y":{"datum":0}}},
 {"data":{"name":"p5"},"transform":[{"flatten":["x","y"]}],"mark":{"type":"line","interpolate":"monotone","strokeWidth":2.5},
  "encoding":{
   "x":{"field":"x","type":"quantitative","scale":{"domain":[11,17],"range":[1432,1690],"nice":false,"zero":false},
    "axis":{"zindex":1,"orient":"bottom","offset":-74,"values":[11,12,13,14,15,16,17],"format":"d","tickSize":6,"labelPadding":12,"labelFontSize":21,"labelAlign":"center","labelLineHeight":34,"labelExpr":"[datum.label, datum.value == 17 ? '+1' : '' + (datum.value - 16)]","title":["MNR size","Indel size"],"titleFontSize":21,"titleLineHeight":34,"titleX":1390,"titleY":18,"titleAlign":"right","titleBaseline":"top","titleAngle":0}},
   "y":{"field":"y","type":"quantitative","scale":{"domain":[0,4],"range":[989,757],"nice":false,"zero":false},
    "axis":{"zindex":1,"orient":"left","offset":-1423,"values":[0,1,2,3,4],"format":"d","tickSize":9,"labelPadding":4,"labelFontSize":21,"title":"Density","titleFontSize":21,"titleX":-54,"titleY":873,"titleAngle":-90,"titleAlign":"center","titleBaseline":"middle"}},
   "color":{"field":"s","type":"nominal","scale":{"domain":["Normal","Tumoral"],"range":["#008000","#ffc000"]},
    "legend":{"zindex":1,"orient":"none","legendX":1301,"legendY":747,"title":null,"symbolType":"stroke","symbolSize":169,"symbolStrokeWidth":2.5,"labelFontSize":15.5,"labelOffset":9,"rowPadding":10}}}}
]},
{"layer":[
 {"data":{"name":"texts"},"transform":[{"filter":"datum.k=='box'"}],"mark":{"type":"text","fontSize":26,"lineBreak":"\n","lineHeight":33,"align":"center","baseline":"middle","color":"black"},
  "encoding":{"x":{"field":"x","type":"quantitative","scale":{"domain":[0,2243],"range":[0,2243],"nice":false,"zero":false},"axis":null},
   "y":{"field":"y","type":"quantitative","scale":{"domain":[0,1073],"range":[0,1073],"nice":false,"zero":false},"axis":null},"text":{"field":"t"}}},
 {"data":{"name":"texts"},"transform":[{"filter":"datum.k=='ngs'"}],"mark":{"type":"text","fontSize":31,"fontWeight":"bold","lineBreak":"\n","lineHeight":39,"align":"center","baseline":"middle","color":"black"},
  "encoding":{"x":{"field":"x","type":"quantitative"},"y":{"field":"y","type":"quantitative"},"text":{"field":"t"}}},
 {"data":{"name":"texts"},"transform":[{"filter":"datum.k=='msicare'"}],"mark":{"type":"text","fontSize":32,"fontWeight":"bold","align":"center","baseline":"middle","color":"white"},
  "encoding":{"x":{"field":"x","type":"quantitative"},"y":{"field":"y","type":"quantitative"},"text":{"field":"t"}}},
 {"data":{"name":"texts"},"transform":[{"filter":"datum.k=='sens'"}],"mark":{"type":"text","fontSize":44,"align":"center","baseline":"middle","color":"#0070c0"},
  "encoding":{"x":{"field":"x","type":"quantitative"},"y":{"field":"y","type":"quantitative"},"text":{"field":"t"}}},
 {"data":{"name":"texts"},"transform":[{"filter":"datum.k=='spec'"}],"mark":{"type":"text","fontSize":44,"align":"center","baseline":"middle","color":"#d4895a"},
  "encoding":{"x":{"field":"x","type":"quantitative"},"y":{"field":"y","type":"quantitative"},"text":{"field":"t"}}},
 {"data":{"name":"texts"},"transform":[{"filter":"datum.k=='sign'"}],"mark":{"type":"text","fontSize":27,"align":"center","baseline":"middle","color":"#0070c0"},
  "encoding":{"x":{"field":"x","type":"quantitative"},"y":{"field":"y","type":"quantitative"},"text":{"field":"t"}}},
 {"data":{"name":"texts"},"transform":[{"filter":"datum.k=='pt'"}],"mark":{"type":"text","fontSize":17,"align":"center","baseline":"middle","color":"black"},
  "encoding":{"x":{"field":"x","type":"quantitative"},"y":{"field":"y","type":"quantitative"},"text":{"field":"t"}}},
 {"data":{"name":"texts"},"transform":[{"filter":"datum.k=='n'"}],"mark":{"type":"text","fontSize":15,"align":"center","baseline":"middle","color":"black"},
  "encoding":{"x":{"field":"x","type":"quantitative"},"y":{"field":"y","type":"quantitative"},"text":{"field":"t"}}},
 {"data":{"name":"texts"},"transform":[{"filter":"datum.k=='loh'"}],"mark":{"type":"text","fontSize":20,"align":"center","baseline":"middle","color":"black"},
  "encoding":{"x":{"field":"x","type":"quantitative"},"y":{"field":"y","type":"quantitative"},"text":{"field":"t"}}},
 {"data":{"name":"texts"},"transform":[{"filter":"datum.k=='sig'"}],"mark":{"type":"text","fontSize":17,"fontWeight":"bold","lineBreak":"\n","lineHeight":29.5,"align":"center","baseline":"middle","color":"#31859c"},
  "encoding":{"x":{"field":"x","type":"quantitative"},"y":{"field":"y","type":"quantitative"},"text":{"field":"t"}}}
]}
],
"resolve":{"scale":{"x":"independent","y":"independent","xOffset":"independent","color":"independent","shape":"independent","strokeDash":"independent"}}
}
